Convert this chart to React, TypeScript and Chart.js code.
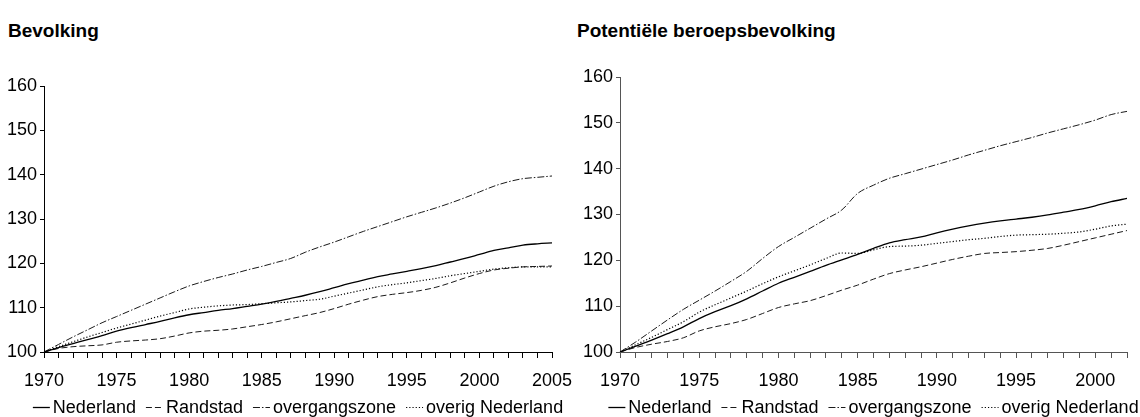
import { useEffect, useRef } from "react";
import { Chart, registerables } from "chart.js";

Chart.register(...registerables);

const FONT = "'Liberation Sans', Arial, Helvetica, sans-serif";

// Series names shared by both panels
const seriesNames = ["Nederland", "Randstad", "overgangszone", "overig Nederland"];

// Bevolking (index 1970 = 100)
const popYears = [
  "1970", "1971", "1972", "1973", "1974", "1975", "1976", "1977", "1978", "1979",
  "1980", "1981", "1982", "1983", "1984", "1985", "1986", "1987", "1988", "1989",
  "1990", "1991", "1992", "1993", "1994", "1995", "1996", "1997", "1998", "1999",
  "2000", "2001", "2002", "2003", "2004", "2005",
];
const popNederland = [
  100, 101.0, 101.9, 102.8, 103.7, 104.7, 105.5, 106.2, 106.9, 107.7,
  108.4, 108.9, 109.4, 109.8, 110.3, 110.8, 111.4, 112.1, 112.8, 113.6,
  114.5, 115.4, 116.2, 117.0, 117.6, 118.2, 118.8, 119.5, 120.3, 121.1,
  122.0, 122.9, 123.5, 124.1, 124.4, 124.6,
];
const popRandstad = [
  100, 100.8, 101.2, 101.4, 101.6, 102.2, 102.5, 102.7, 103.0, 103.6,
  104.3, 104.7, 104.9, 105.2, 105.7, 106.2, 106.8, 107.5, 108.2, 108.9,
  109.8, 110.8, 111.7, 112.5, 113.0, 113.4, 113.9, 114.6, 115.6, 116.7,
  117.7, 118.5, 118.9, 119.2, 119.3, 119.4,
];
const popOvergangszone = [
  100, 101.7, 103.4, 105.0, 106.6, 108.0, 109.4, 110.8, 112.2, 113.6,
  114.9, 115.9, 116.8, 117.6, 118.5, 119.3, 120.2, 121.1, 122.5, 123.7,
  124.8, 126.0, 127.2, 128.3, 129.4, 130.5, 131.5, 132.5, 133.6, 134.8,
  136.1, 137.4, 138.4, 139.1, 139.4, 139.7,
];
const popOverig = [
  100, 101.2, 102.3, 103.4, 104.4, 105.4, 106.3, 107.2, 108.1, 108.9,
  109.7, 110.1, 110.4, 110.6, 110.7, 110.9, 111.1, 111.3, 111.6, 111.9,
  112.6, 113.3, 114.0, 114.7, 115.2, 115.6, 116.1, 116.6, 117.2, 117.7,
  118.2, 118.7, 119.0, 119.2, 119.2, 119.2,
];

// Potentiële beroepsbevolking (index 1970 = 100)
const labourYears = [
  "1970", "1971", "1972", "1973", "1974", "1975", "1976", "1977", "1978", "1979",
  "1980", "1981", "1982", "1983", "1984", "1985", "1986", "1987", "1988", "1989",
  "1990", "1991", "1992", "1993", "1994", "1995", "1996", "1997", "1998", "1999",
  "2000", "2001", "2002",
];
const labourNederland = [
  100, 101.3, 102.6, 104.0, 105.5, 107.3, 108.8, 110.1, 111.6, 113.3,
  115.0, 116.3, 117.6, 118.9, 120.1, 121.3, 122.6, 123.8, 124.5, 125.1,
  126.0, 126.8, 127.5, 128.1, 128.6, 129.0, 129.4, 129.9, 130.5, 131.1,
  131.9, 132.8, 133.5,
];
const labourRandstad = [
  100, 101.0, 101.7, 102.3, 103.1, 104.6, 105.5, 106.2, 107.1, 108.4,
  109.7, 110.5, 111.2, 112.3, 113.5, 114.6, 115.9, 117.1, 117.9, 118.6,
  119.4, 120.2, 120.9, 121.5, 121.7, 121.9, 122.2, 122.6, 123.3, 124.1,
  124.9, 125.7, 126.5,
];
const labourOvergangszone = [
  100, 102.2, 104.6, 107.0, 109.3, 111.3, 113.3, 115.4, 117.6, 120.4,
  123.0, 125.0, 127.0, 129.0, 131.0, 134.6, 136.4, 137.9, 138.9, 139.9,
  140.9, 141.9, 143.0, 144.0, 145.0, 145.9, 146.8, 147.8, 148.7, 149.6,
  150.6, 151.8, 152.5,
];
const labourOverig = [
  100, 101.6, 103.2, 104.9, 106.6, 108.7, 110.3, 111.8, 113.3, 114.9,
  116.4, 117.7, 119.0, 120.4, 121.6, 121.5, 122.3, 123.0, 123.1, 123.3,
  123.7, 124.1, 124.5, 124.8, 125.2, 125.5, 125.6, 125.7, 125.9, 126.2,
  126.8, 127.5, 127.9,
];

const yTicks = [100, 110, 120, 130, 140, 150, 160];

// Line styling per series
const lineColors = ["#000000", "#1a1a1a", "#1a1a1a", "#000000"];
const lineWidths = [1.3, 1, 1, 1.2];
const lineDashes: number[][] = [[], [6, 3], [7, 2, 1.5, 2], [1.2, 2]];

const FONT_SIZE = 18;
const KEY_Y = 407;

// Compact key below the x axis: short line sample, then the series name
const seriesKey = {
  id: "seriesKey",
  afterDraw(chart: any) {
    const { ctx, chartArea } = chart;
    const sample = 17;
    const gapIn = 3;
    const gapOut = 10;
    ctx.save();
    ctx.font = `${FONT_SIZE}px ${FONT}`;
    const widths = seriesNames.map((n) => ctx.measureText(n).width);
    const total =
      widths.reduce((a, b) => a + b, 0) +
      seriesNames.length * (sample + gapIn) +
      (seriesNames.length - 1) * gapOut;
    let x = (chartArea.left + chartArea.right) / 2 - total / 2;
    seriesNames.forEach((name, i) => {
      ctx.beginPath();
      ctx.setLineDash(lineDashes[i]);
      ctx.lineWidth = lineWidths[i];
      ctx.strokeStyle = lineColors[i];
      ctx.moveTo(x, KEY_Y + 0.5);
      ctx.lineTo(x + sample, KEY_Y + 0.5);
      ctx.stroke();
      ctx.setLineDash([]);
      x += sample + gapIn;
      ctx.fillStyle = "#000";
      ctx.textAlign = "left";
      ctx.textBaseline = "middle";
      ctx.fillText(name, x, KEY_Y + 1);
      x += widths[i] + gapOut;
    });
    ctx.restore();
  },
};

type PanelProps = {
  labels: string[];
  values: number[][];
  axisColor: string;
  left: number;
  width: number;
  padLeft: number;
  padRight: number;
  padTop: number;
};

function IndexPanel({ labels, values, axisColor, left, width, padLeft, padRight, padTop }: PanelProps) {
  const ref = useRef<HTMLCanvasElement>(null);

  useEffect(() => {
    if (!ref.current) return;
    const tickFont = { family: FONT, size: FONT_SIZE };
    const chart = new Chart(ref.current, {
      type: "line",
      data: {
        labels,
        datasets: seriesNames.map((name, i) => ({
          label: name,
          data: values[i],
          borderColor: lineColors[i],
          backgroundColor: lineColors[i],
          borderWidth: lineWidths[i],
          borderDash: lineDashes[i],
          pointRadius: 0,
          fill: false,
          cubicInterpolationMode: "monotone" as const,
        })),
      },
      plugins: [seriesKey],
      options: {
        animation: false,
        responsive: false,
        maintainAspectRatio: false,
        layout: { padding: { left: padLeft, right: padRight, top: padTop, bottom: 25 } },
        plugins: {
          tooltip: { enabled: false },
          legend: { display: false },
        },
        scales: {
          x: {
            type: "category",
            offset: false,
            afterFit: (s: any) => {
              s.height = 40;
            },
            grid: {
              display: true,
              drawOnChartArea: false,
              drawTicks: true,
              tickLength: 6,
              color: axisColor,
              offset: false,
            },
            border: { display: true, color: axisColor, width: 1 },
            ticks: {
              autoSkip: false,
              maxRotation: 0,
              minRotation: 0,
              color: "#000",
              font: tickFont,
              padding: 12,
              callback: (_v: any, i: number) => (Number(labels[i]) % 5 === 0 ? labels[i] : ""),
            },
          },
          y: {
            min: yTicks[0],
            max: yTicks[yTicks.length - 1],
            afterFit: (s: any) => {
              s.width = 36;
            },
            afterBuildTicks: (s: any) => {
              s.ticks = yTicks.map((v) => ({ value: v }));
            },
            grid: {
              display: true,
              drawOnChartArea: false,
              drawTicks: true,
              tickLength: 4,
              color: axisColor,
            },
            border: { display: true, color: axisColor, width: 1 },
            ticks: { color: "#000", font: tickFont, padding: 3 },
          },
        },
      },
    });
    return () => chart.destroy();
  }, [labels, values, axisColor, padLeft, padRight, padTop]);

  return (
    <canvas
      ref={ref}
      width={width}
      height={417}
      style={{ position: "absolute", left, top: 0, width, height: 417 }}
    />
  );
}

const titleStyle = {
  position: "absolute" as const,
  top: 20,
  fontFamily: FONT,
  fontWeight: 700,
  fontSize: 19,
  lineHeight: "22px",
  color: "#000",
  whiteSpace: "nowrap" as const,
};

export default function App() {
  return (
    <div style={{ position: "absolute", left: 0, top: 0, width: 1140, height: 417, background: "#fff", overflow: "hidden" }}>
      <div style={{ ...titleStyle, left: 8 }}>Bevolking</div>
      <div style={{ ...titleStyle, left: 577 }}>Potentiële beroepsbevolking</div>
      <IndexPanel
        labels={popYears}
        values={[popNederland, popRandstad, popOvergangszone, popOverig]}
        axisColor="#000"
        left={0}
        width={600}
        padLeft={8}
        padRight={48}
        padTop={86}
      />
      <IndexPanel
        labels={labourYears}
        values={[labourNederland, labourRandstad, labourOvergangszone, labourOverig]}
        axisColor="#555"
        left={570}
        width={570}
        padLeft={14}
        padRight={13}
        padTop={77}
      />
    </div>
  );
}
